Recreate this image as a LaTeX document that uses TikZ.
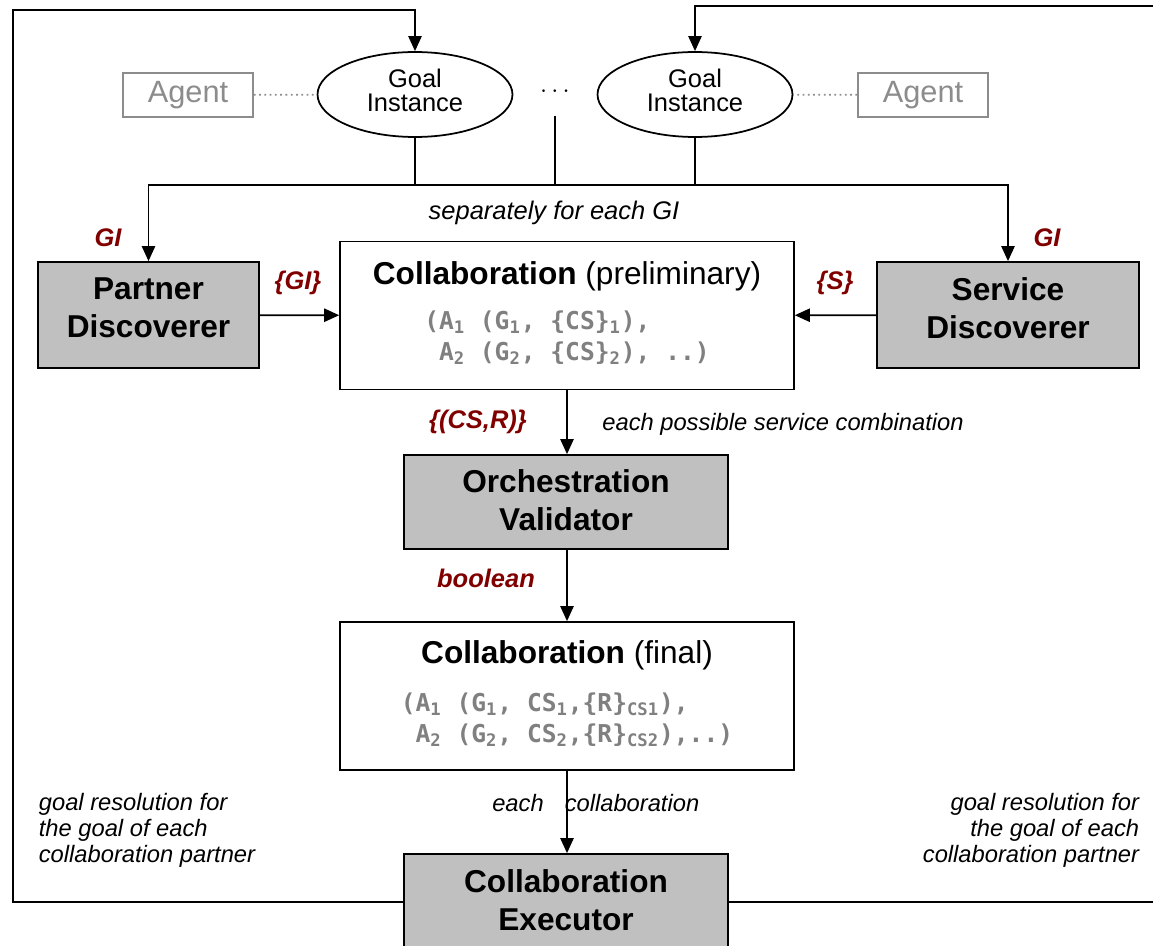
\documentclass[tikz,border=0pt]{standalone}
\usepackage{fontspec}
\setmainfont{Liberation Sans}
\newfontfamily\monofont{DejaVu Sans Mono}
\usetikzlibrary{arrows.meta,shapes.geometric}
\definecolor{darkred}{HTML}{800000}
\definecolor{boxgray}{HTML}{C0C0C0}
\definecolor{textgray}{HTML}{808080}
\definecolor{agentgray}{HTML}{8C8C8C}
\newcommand{\sub}[1]{\textsubscript{#1}}
\newcommand{\boxtitlefont}{\fontsize{18}{21.5}\selectfont\bfseries}
\newcommand{\codefont}{\monofont\bfseries\color{textgray}\fontsize{14}{17.5}\selectfont}
\begin{document}
\begin{tikzpicture}[x=0.02cm,y=-0.02cm,line width=1pt,
	>={Triangle[length=8.5pt,width=7.5pt]},
	collab/.style={draw,fill=white,align=center,minimum width=9.08cm,minimum height=2.96cm,inner sep=0pt,font=\fontsize{18}{21.5}\selectfont},
	component/.style={draw,fill=boxgray,align=center,font=\boxtitlefont}]
	\useasboundingbox (0,0) rectangle (1153,946);
	% goal instances and agents
	\begin{scope}[every node/.style={ellipse,draw,align=center,minimum width=3.9cm,minimum height=1.7cm,inner sep=0pt,text depth=5pt,font=\fontsize{14.5}{13.5}\selectfont}]
	\node (gi1) at (415,94.5) {Goal\\Instance};
	\node (gi2) at (695,94.5) {Goal\\Instance};
	\end{scope}
	\node (dots) at (555,92) {\fontsize{14}{14}\selectfont$\cdots$};
	\coordinate (dotsfoot) at (555,116);
	\begin{scope}[every node/.style={draw=agentgray,text=agentgray,minimum width=2.6cm,minimum height=0.88cm,inner sep=0pt,font=\fontsize{17.5}{20}\selectfont}]
	\node (ag1) at (188,95) {Agent};
	\node (ag2) at (923,95) {Agent};
	\end{scope}
	% components
	\node[component,minimum width=4.42cm,minimum height=2.12cm,text depth=8pt] (pd) at (148.5,315) {Partner\\Discoverer};
	\node[component,minimum width=5.24cm,minimum height=2.12cm,text depth=8pt] (sd) at (1008,315) {Service\\Discoverer};
	\node[component,minimum width=6.48cm,minimum height=1.88cm,text depth=2pt] (ov) at (566,502) {Orchestration\\Validator};
	\node[component,minimum width=6.48cm,minimum height=1.92cm,text depth=2pt] (ce) at (566,902) {Collaboration\\Executor};
	\node[collab] (cp) at (567,315.5) {\textbf{Collaboration} (preliminary)\\[4pt]
		{\codefont\begin{tabular}[t]{@{}l@{}}(A\sub1 (G\sub1, \{CS\}\sub1),\\
		\ A\sub2 (G\sub2, \{CS\}\sub2), ..)\end{tabular}}};
	\node[collab] (cf) at (567,696) {\textbf{Collaboration} (final)\\[6pt]
		{\codefont\begin{tabular}[t]{@{}l@{}}(A\sub1 (G\sub1, CS\sub1,\{R\}\sub{CS1}),\\
		\ A\sub2 (G\sub2, CS\sub2,\{R\}\sub{CS2}),..)\end{tabular}}};
	% connectors
	\coordinate (bus) at (0,185);
	\coordinate (lc) at (13,10);
	\coordinate (rc) at (1162,6);
	\draw[dotted,agentgray] (ag1) -- (gi1);
	\draw[dotted,agentgray] (ag2) -- (gi2);
	\draw[->] (gi1.south) -- (gi1 |- bus) -| (pd.north);
	\draw[->] (gi2.south) -- (gi2 |- bus) -| (sd.north);
	\draw (gi1 |- bus) -- (gi2 |- bus);
	\draw (dotsfoot) -- (dotsfoot |- bus);
	\draw[->] (pd) -- (cp);
	\draw[->] (sd) -- (cp);
	\draw[->] (cp.south) -- (cp.south |- ov.north);
	\draw[->] (cp.south |- ov.south) -- (cf.north);
	\draw[->] (cf.south) -- (cf.south |- ce.north);
	\draw[->] (ce.west) -| (lc) -| (gi1.north);
	\draw[->] (ce.east) -| (rc) -| (gi2.north);
	% labels
	\begin{scope}[every node/.style={text=darkred,font=\fontsize{14.5}{16}\selectfont\bfseries\itshape}]
	\node (lgi1) at (108,238) {GI};
	\node (lgi2) at (1047,238) {GI};
	\node (lgiset) at (298,283) {\{GI\}};
	\node (lsset) at (835,283) {\{S\}};
	\node (lcsr) at (478,422) {\{(CS,R)\}};
	\node (lbool) at (486,578) {boolean};
	\end{scope}
	\begin{scope}[every node/.style={font=\fontsize{13.5}{15}\selectfont\itshape}]
	\node[font=\fontsize{14.5}{16}\selectfont\itshape] (lsep) at (554,213) {separately for each GI};
	\node (lcomb) at (783,424) {each possible service combination};
	\node (leach) at (518,803) {each};
	\node (lcoll) at (632,803) {collaboration};
	\node[anchor=north west,align=left,inner sep=0pt] (lres1) at (38,792) {goal resolution for\\the goal of each\\collaboration partner};
	\node[anchor=north east,align=right,inner sep=0pt] (lres2) at (1140,792) {goal resolution for\\the goal of each\\collaboration partner};
	\end{scope}
\end{tikzpicture}
\end{document}
